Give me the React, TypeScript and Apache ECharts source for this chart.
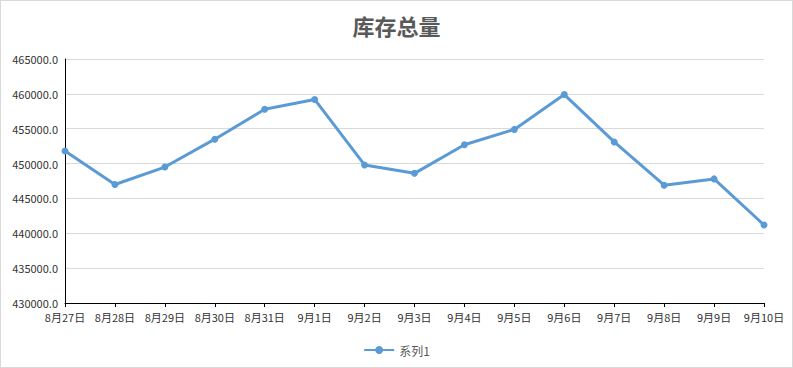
import React, { useEffect, useRef } from "react";
import * as echarts from "echarts";

const categories = [
  "8月27日", "8月28日", "8月29日", "8月30日", "8月31日", "9月1日", "9月2日", "9月3日",
  "9月4日", "9月5日", "9月6日", "9月7日", "9月8日", "9月9日", "9月10日",
];
const series1 = [
  451800, 447000, 449500, 453500, 457800, 459200, 449800, 448600,
  452700, 454900, 459900, 453100, 446900, 447800, 441200,
];
const titleText = "库存总量";
const seriesName = "系列1";

const FONT = "'Noto Sans CJK SC', 'Noto Sans', sans-serif";

export default function App() {
  const ref = useRef<HTMLDivElement>(null);
  useEffect(() => {
    if (!ref.current) return;
    const chart = echarts.init(ref.current, undefined, { renderer: "svg" });
    chart.setOption({
      animation: false,
      backgroundColor: "#fff",
      title: {
        text: titleText,
        left: "center",
        top: 8,
        textStyle: { fontFamily: FONT, fontSize: 22, fontWeight: "bold", color: "#595959" },
      },
      grid: { left: 64, right: 28, top: 58, bottom: 64, containLabel: false },
      legend: {
        data: [seriesName],
        left: "center",
        top: 338,
        itemWidth: 30,
        itemHeight: 10,
        textStyle: { fontFamily: FONT, fontSize: 12, color: "#595959" },
      },
      xAxis: {
        type: "category",
        data: categories,
        boundaryGap: false,
        axisLine: { lineStyle: { color: "#000", width: 1 } },
        axisTick: { show: true, alignWithLabel: true, length: 4, lineStyle: { color: "#000" } },
        axisLabel: { fontFamily: FONT, fontSize: 11, color: "#333", margin: 8, interval: 0 },
        splitLine: { show: false },
      },
      yAxis: {
        type: "value",
        min: 430000,
        max: 465000,
        interval: 5000,
        axisLine: { show: true, lineStyle: { color: "#000", width: 1 } },
        axisTick: { show: false },
        axisLabel: {
          fontFamily: FONT,
          fontSize: 11,
          color: "#333",
          margin: 7,
          formatter: (v: number) => v.toFixed(1),
        },
        splitLine: { lineStyle: { color: "#d9d9d9", width: 1 } },
      },
      series: [
        {
          name: seriesName,
          type: "line",
          data: series1,
          symbol: "circle",
          symbolSize: 7,
          lineStyle: { color: "#5b9bd5", width: 3 },
          itemStyle: { color: "#5b9bd5" },
        },
      ],
    });
    return () => chart.dispose();
  }, []);
  return (
    <div
      style={{
        position: "fixed",
        left: 0,
        top: 0,
        width: 793,
        height: 368,
        boxSizing: "border-box",
        border: "1px solid #d9d9d9",
        background: "#fff",
      }}
    >
      <div ref={ref} style={{ width: 791, height: 366 }} />
    </div>
  );
}
